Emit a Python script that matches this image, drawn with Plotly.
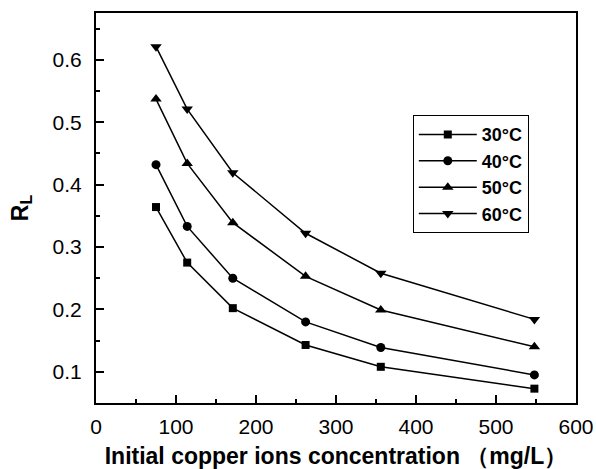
import plotly.graph_objects as go

# Initial copper ion concentration (mg/L)
concentration = [75, 114, 171, 262, 356, 548]

# Separation factor R_L at each temperature
rl_30 = [0.364, 0.275, 0.202, 0.143, 0.108, 0.073]
rl_40 = [0.432, 0.333, 0.250, 0.180, 0.139, 0.095]
rl_50 = [0.537, 0.434, 0.339, 0.253, 0.199, 0.140]
rl_60 = [0.621, 0.521, 0.419, 0.322, 0.258, 0.184]

series_names = ["30°C", "40°C", "50°C", "60°C"]
series_values = [rl_30, rl_40, rl_50, rl_60]
series_symbols = ["square", "circle", "triangle-up", "triangle-down"]
symbol_sizes = [8, 9, 10, 10]

x_ticks = [0, 100, 200, 300, 400, 500, 600]
y_ticks = [0.1, 0.2, 0.3, 0.4, 0.5, 0.6]

fig = go.Figure()
for name, vals, sym, sz in zip(series_names, series_values, series_symbols, symbol_sizes):
    fig.add_trace(go.Scatter(
        x=concentration, y=vals, name=name, mode="lines+markers",
        line=dict(color="black", width=1.5),
        marker=dict(symbol=sym, size=sz, color="black"),
    ))

font_family = "Liberation Sans, Arial, sans-serif"

fig.update_layout(
    width=596, height=469,
    margin=dict(l=96, r=20, t=13, b=66),
    plot_bgcolor="white", paper_bgcolor="white",
    font=dict(family=font_family, size=21, color="black"),
    showlegend=True,
    legend=dict(
        x=0.66, y=0.738, xanchor="left", yanchor="top",
        bordercolor="black", borderwidth=1, bgcolor="white",
        font=dict(family=font_family, size=18, color="black", weight="bold"),
        itemwidth=58,
    ),
)

fig.update_xaxes(
    range=[0, 600], tickvals=x_ticks, ticktext=[str(v) for v in x_ticks],
    showline=True, linecolor="black", linewidth=2, mirror=True,
    ticks="inside", ticklen=8, tickwidth=1.5, tickcolor="black",
    minor=dict(ticks="inside", ticklen=4, tickwidth=1.5, tickcolor="black", dtick=50),
    showgrid=False, zeroline=False, automargin=False,
    tickfont=dict(size=21), ticklabelstandoff=4,
    title=dict(text="<b>Initial copper ions concentration （mg/L）</b>",
               font=dict(size=23), standoff=12),
)
fig.update_yaxes(
    range=[0.05, 0.675], tickvals=y_ticks, ticktext=[f"{v:.1f}" for v in y_ticks],
    showline=True, linecolor="black", linewidth=2, mirror=True,
    ticks="inside", ticklen=8, tickwidth=1.5, tickcolor="black",
    minor=dict(ticks="inside", ticklen=4, tickwidth=1.5, tickcolor="black", dtick=0.05, tick0=0.05),
    showgrid=False, zeroline=False, automargin=False,
    tickfont=dict(size=21), ticklabelstandoff=8,
    title=dict(text="<b>R<sub>L</sub></b>", font=dict(size=23), standoff=18),
)

fig.write_html("out.html")
